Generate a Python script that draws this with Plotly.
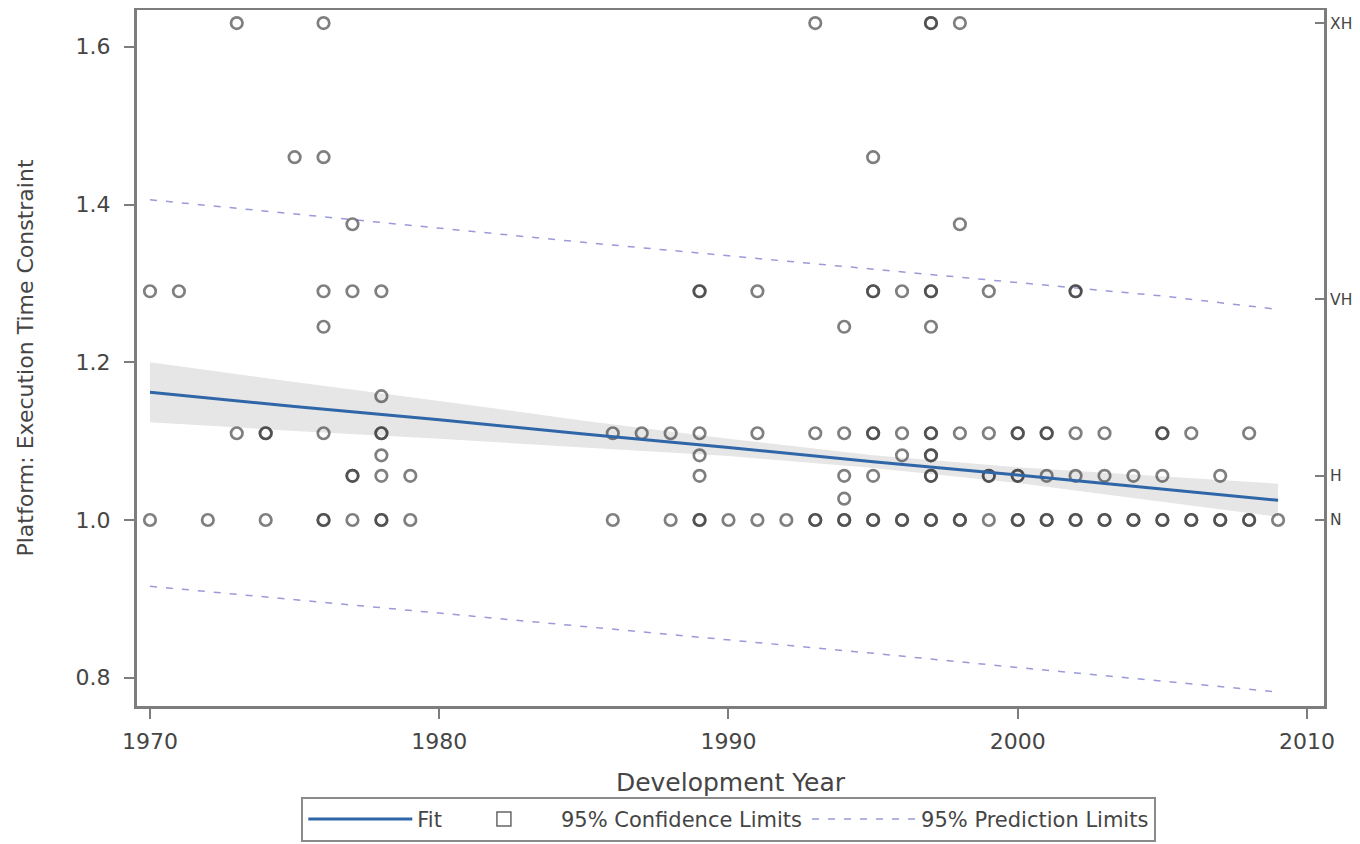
import plotly.graph_objects as go

# ---------------- data ----------------
# observed points: one list of development years per rating level (duplicates = overlapping projects)
years_at_1000 = [1970, 1972, 1974, 1976, 1976, 1977, 1978, 1978, 1979, 1986, 1988, 1989, 1989,
                 1990, 1991, 1992, 1993, 1993, 1994, 1994, 1995, 1995, 1996, 1996, 1997, 1997,
                 1998, 1998, 1999, 2000, 2000, 2001, 2001, 2002, 2002, 2003, 2003, 2004, 2004,
                 2005, 2005, 2006, 2006, 2007, 2007, 2008, 2008, 2009]
years_at_1027 = [1994]
years_at_1056 = [1977, 1977, 1978, 1979, 1989, 1994, 1995, 1997, 1997, 1999, 1999, 2000, 2000,
                 2001, 2002, 2003, 2004, 2005, 2007]
years_at_1082 = [1978, 1989, 1996, 1997, 1997]
years_at_1110 = [1973, 1974, 1974, 1976, 1978, 1978, 1986, 1987, 1988, 1989, 1991, 1993, 1994,
                 1995, 1995, 1996, 1997, 1997, 1998, 1999, 2000, 2000, 2001, 2001, 2002, 2003,
                 2005, 2005, 2006, 2008]
years_at_1157 = [1978]
years_at_1245 = [1976, 1994, 1997]
years_at_1290 = [1970, 1971, 1976, 1977, 1978, 1989, 1989, 1991, 1995, 1995, 1996, 1997, 1997,
                 1999, 2002, 2002]
years_at_1375 = [1977, 1998]
years_at_1460 = [1975, 1976, 1995]
years_at_1630 = [1973, 1976, 1993, 1997, 1997, 1998]

level_values = [1.0, 1.027, 1.056, 1.082, 1.11, 1.157, 1.245, 1.29, 1.375, 1.46, 1.63]
level_years = [years_at_1000, years_at_1027, years_at_1056, years_at_1082, years_at_1110,
               years_at_1157, years_at_1245, years_at_1290, years_at_1375, years_at_1460,
               years_at_1630]

# regression fit, confidence and prediction limits
fit_years = [1970, 1975, 1980, 1985, 1990, 1995, 2000, 2005, 2009]
fit_value = [1.162, 1.144, 1.127, 1.109, 1.092, 1.074, 1.057, 1.039, 1.025]
clm_lower = [1.124, 1.113, 1.103, 1.092, 1.081, 1.066, 1.047, 1.023, 1.004]
clm_upper = [1.200, 1.175, 1.151, 1.126, 1.103, 1.082, 1.067, 1.055, 1.046]
pred_lower = [0.916, 0.899, 0.882, 0.865, 0.848, 0.831, 0.813, 0.796, 0.782]
pred_upper = [1.406, 1.388, 1.370, 1.352, 1.335, 1.318, 1.301, 1.284, 1.267]

# axis labels
x_ticks = [1970, 1980, 1990, 2000, 2010]
y_ticks = [0.8, 1.0, 1.2, 1.4, 1.6]
y_tick_text = ["0.8", "1.0", "1.2", "1.4", "1.6"]
rating_vals = [1.0, 1.056, 1.28, 1.63]
rating_text = ["N", "H", "VH", "XH"]

# ---------------- figure ----------------
obs_x, obs_y = [], []
for val, yrs in zip(level_values, level_years):
    obs_x.extend(yrs)
    obs_y.extend([val] * len(yrs))

FONT = "DejaVu Sans"
TXT = "#454545"
AX = "#7d7d7d"
PRED = "#9a9ad8"
X_RANGE = [1969.551, 2010.588]
Y_RANGE = [0.7642, 1.6466]

fig = go.Figure()

# confidence band
fig.add_trace(go.Scatter(x=fit_years + fit_years[::-1], y=clm_upper + clm_lower[::-1],
                         fill="toself", fillcolor="#e6e6e6", line=dict(width=0),
                         mode="lines", showlegend=False, hoverinfo="skip"))
# prediction limits
fig.add_trace(go.Scatter(x=fit_years, y=pred_upper, mode="lines",
                         line=dict(color=PRED, width=1.5, dash="7px,9px"),
                         showlegend=False))
fig.add_trace(go.Scatter(x=fit_years, y=pred_lower, mode="lines",
                         line=dict(color=PRED, width=1.5, dash="7px,9px"),
                         showlegend=False))
# observations
fig.add_trace(go.Scatter(x=obs_x, y=obs_y, mode="markers", showlegend=False,
                         marker=dict(symbol="circle-open", size=11.5,
                                     color="rgba(55,55,55,0.64)",
                                     line=dict(width=2.7, color="rgba(55,55,55,0.64)"))))
# fit line
fig.add_trace(go.Scatter(x=fit_years, y=fit_value, mode="lines", name="Fit",
                         line=dict(color="#2f66a8", width=3)))
# legend proxies
fig.add_trace(go.Scatter(x=[None], y=[None], mode="markers", name="95% Confidence Limits",
                         marker=dict(symbol="square-open", size=14, color="#666666",
                                     line=dict(width=1.5, color="#666666"))))
fig.add_trace(go.Scatter(x=[None], y=[None], mode="lines", name="95% Prediction Limits",
                         line=dict(color=PRED, width=1.5, dash="7px,9px")))

# right rating axis
fig.add_trace(go.Scatter(x=[None], y=[None], yaxis="y2", showlegend=False))

fig.update_layout(
    width=1360, height=844,
    margin=dict(l=129, r=44, t=2, b=146, autoexpand=False),
    paper_bgcolor="white", plot_bgcolor="white",
    font=dict(family=FONT, color=TXT, size=20),
    xaxis=dict(range=X_RANGE, tickvals=x_ticks, ticks="outside", ticklen=10, tickwidth=2,
               tickcolor=AX, showline=True, linecolor=AX, linewidth=3, mirror=True,
               showgrid=False, zeroline=False, tickfont=dict(size=22, color=TXT),
               ticklabelstandoff=4,
               title=dict(text="Development Year", font=dict(size=25, color=TXT), standoff=22)),
    yaxis=dict(range=Y_RANGE, tickvals=y_ticks, ticktext=y_tick_text, ticks="outside",
               ticklen=10, tickwidth=2, tickcolor=AX, showline=True, linecolor=AX,
               linewidth=3, showgrid=False, zeroline=False, ticklabelstandoff=9,
               tickfont=dict(size=22, color=TXT),
               title=dict(text="Platform: Execution Time Constraint",
                          font=dict(size=22, color=TXT), standoff=36)),
    yaxis2=dict(range=Y_RANGE, overlaying="y", side="right", tickvals=rating_vals,
                ticktext=rating_text, ticks="inside", ticklen=9, tickwidth=2, tickcolor=AX,
                showline=True, linecolor=AX, linewidth=3, showgrid=False, zeroline=False,
                tickfont=dict(size=15.5, color=TXT)),
    legend=dict(orientation="h", xref="container", yref="container",
                x=0.530, xanchor="center", y=0.0652, yanchor="top",
                bordercolor="#8a8a8a", borderwidth=2, bgcolor="white",
                font=dict(size=21, color=TXT), itemwidth=104, tracegroupgap=0),
    showlegend=True,
)

fig.write_html("out.html")
